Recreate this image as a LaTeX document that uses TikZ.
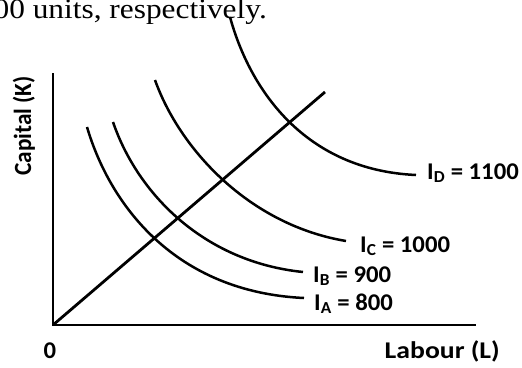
\documentclass[tikz,border=0pt]{standalone}
\usepackage{fontspec}
\setmainfont{Liberation Serif}
\newfontfamily\calibri{Carlito}
\usepackage{tikz}
\usetikzlibrary{positioning, calc}

\begin{document}
\begin{tikzpicture}[
      x=1pt, y=-1pt,
      axis/.style={line width=2.8pt},
      iso/.style={line width=2.5pt},
      lbl/.style={font=\calibri\bfseries\fontsize{24}{28}\selectfont, inner sep=0pt, xscale=1.03},
      body/.style={font=\fontsize{28}{32}\selectfont, inner sep=0pt, xscale=1.12},
    ]
    \clip (0,0) rectangle (522,367);
    % text line above the figure
    \node[body, anchor=base east] (txt) at (267,18) {00 units, respectively.};
    % axes
    \coordinate (O) at (53,325);
    \coordinate (ytop) at (53,73);
    \coordinate (xend) at (476,325);
    \coordinate (ray) at (325,92);
    \draw[axis] (ytop) -- (O) -- (xend);
    \draw[axis] (O) -- (ray);
    % isoquants
    \coordinate (a0) at (87,127);  \coordinate (a1) at (304,298);
    \coordinate (b0) at (113,122); \coordinate (b1) at (303,272);
    \coordinate (c0) at (155,80);  \coordinate (c1) at (346,241);
    \coordinate (d0) at (230,17);  \coordinate (d1) at (416,175);
    \draw[iso] (a0) .. controls (110,205) and (175,292) .. (a1);
    \draw[iso] (b0) .. controls (138,195) and (205,262) .. (b1);
    \draw[iso] (c0) .. controls (180,150) and (250,225) .. (c1);
    \draw[iso] (d0) .. controls (250,90) and (305,170) .. (d1);
    % labels
    \node[lbl, anchor=base west] (la) at (314,310) {I\textsubscript{A} = 800};
    \node[lbl, anchor=base west] (lb) at (313,282) {I\textsubscript{B} = 900};
    \node[lbl, anchor=base west] (lc) at (360,252) {I\textsubscript{C} = 1000};
    \node[lbl, anchor=base west] (ld) at (427,179) {I\textsubscript{D} = 1100};
    \node[lbl, anchor=base] (zero) at (50,358) {0};
    \node[lbl, anchor=base east, xscale=1.12] (xlab) at (500,358) {Labour (L)};
    \node[lbl, rotate=90, xscale=0.97] (ylab) at (24,126) {Capital (K)};
  \end{tikzpicture}
\end{document}
